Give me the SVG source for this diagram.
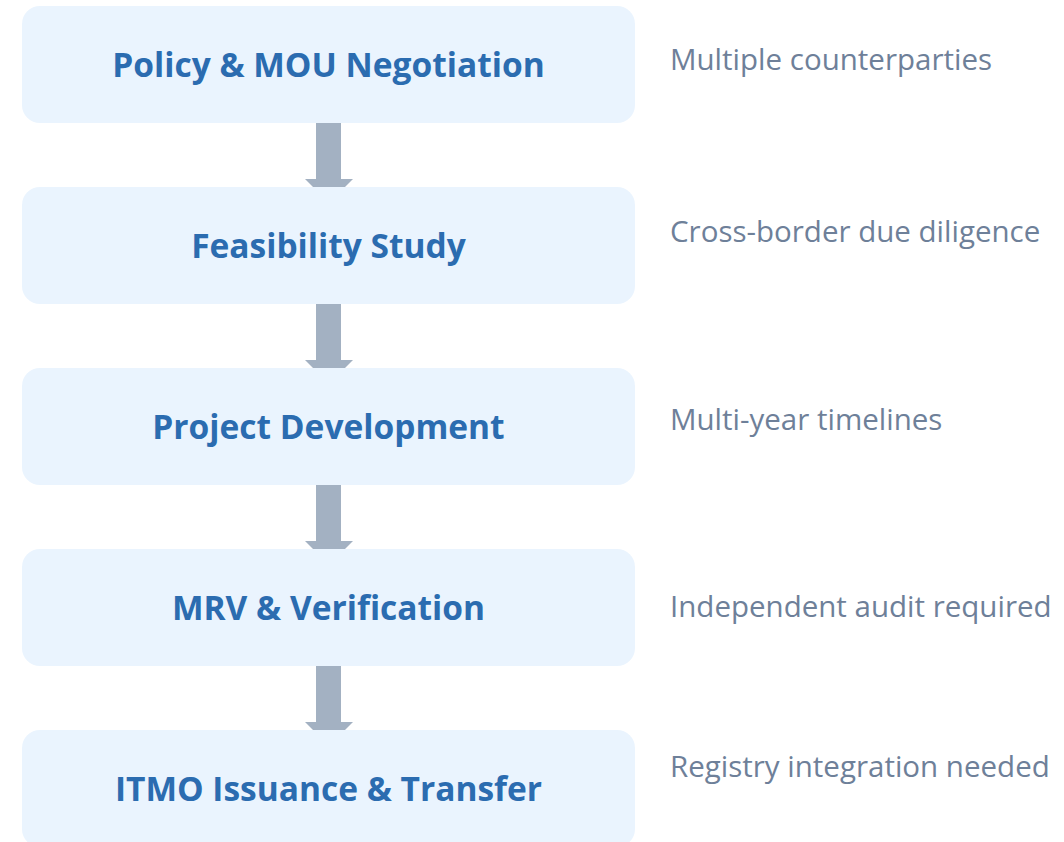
<svg xmlns="http://www.w3.org/2000/svg" width="1064" height="842" viewBox="0 0 1064 842">
<style>
.box{fill:#EAF4FE}
.t{font-family:"Open Sans","Liberation Sans",sans-serif;font-weight:700;font-size:33.5px;fill:#2B6CB0;text-anchor:middle}
.n{font-family:"Open Sans","Liberation Sans",sans-serif;font-size:29.5px;fill:#6E8099}
.a{fill:#A3B1C2}
</style>
<rect width="1064" height="842" fill="#FFFFFF"/>
<g id="connectors">
<path class="a" d="M316,123 H341 V179 H353 L329,203 L305,179 H316 Z"/>
<path class="a" d="M316,304 H341 V360 H353 L329,384 L305,360 H316 Z"/>
<path class="a" d="M316,485 H341 V541 H353 L329,565 L305,541 H316 Z"/>
<path class="a" d="M316,666 H341 V722 H353 L329,746 L305,722 H316 Z"/>
</g>
<g id="node1"><rect class="box" x="22" y="6" width="613" height="117" rx="18"/><text class="t" x="328.5" y="77">Policy &amp; MOU Negotiation</text><text class="n" x="670" y="70">Multiple counterparties</text></g>
<g id="node2"><rect class="box" x="22" y="187" width="613" height="117" rx="18"/><text class="t" x="328.5" y="258">Feasibility Study</text><text class="n" x="670" y="242">Cross-border due diligence</text></g>
<g id="node3"><rect class="box" x="22" y="368" width="613" height="117" rx="18"/><text class="t" x="328.5" y="439">Project Development</text><text class="n" x="670" y="430">Multi-year timelines</text></g>
<g id="node4"><rect class="box" x="22" y="549" width="613" height="117" rx="18"/><text class="t" x="328.5" y="620">MRV &amp; Verification</text><text class="n" x="670" y="617">Independent audit required</text></g>
<g id="node5"><rect class="box" x="22" y="730" width="613" height="117" rx="18"/><text class="t" x="328.5" y="801">ITMO Issuance &amp; Transfer</text><text class="n" x="670" y="777">Registry integration needed</text></g>
</svg>
